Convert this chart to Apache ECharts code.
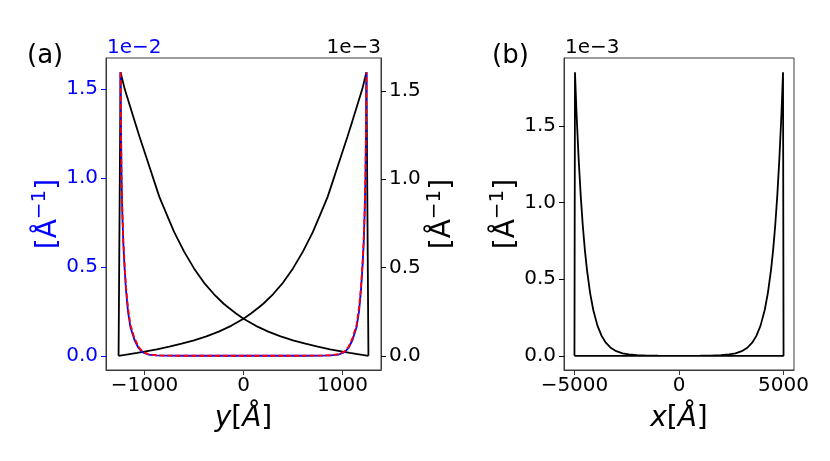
<!DOCTYPE html>
<html>
<head>
<meta charset="utf-8">
<script src="https://cdn.jsdelivr.net/npm/echarts@6/dist/echarts.min.js"></script>
<style>
  html, body { margin: 0; padding: 0; background: #fff; }
  #chart { width: 830px; height: 461px; }
</style>
</head>
<body>
<div id="chart"></div>
<script>
// panel (a): edge peaks, left axis in units of 1e-2
const aEdgeX = [-1242, -1238, -1232, -1224, -1214, -1202, -1187, -1167, -1142, -1102, -1062, -1022, -962, -882, -782, -600, -300,
  0, 300, 600, 782, 882, 962, 1022, 1062, 1102, 1142, 1167, 1187, 1202, 1214, 1224, 1232, 1238, 1242];
const aBlue = [1.594, 1.30, 1.0, 0.80, 0.63, 0.50, 0.37, 0.25, 0.16, 0.09, 0.045, 0.02, 0.007, 0.002, 0.0005, 0, 0,
  0, 0, 0, 0.0005, 0.002, 0.007, 0.02, 0.045, 0.09, 0.16, 0.25, 0.37, 0.50, 0.63, 0.80, 1.0, 1.30, 1.594];
const aRed = [1.594, 1.31, 1.01, 0.82, 0.65, 0.52, 0.39, 0.27, 0.175, 0.10, 0.052, 0.025, 0.009, 0.003, 0.0008, 0, 0,
  0, 0, 0, 0.0008, 0.003, 0.009, 0.025, 0.052, 0.10, 0.175, 0.27, 0.39, 0.52, 0.65, 0.82, 1.01, 1.31, 1.594];

// panel (a): black curves, right axis in units of 1e-3
const aBlack1X = [-1262, -1242, -1200, -1150, -1100, -1050, -1000, -950, -900, -850, -775, -700, -600, -500, -400, -300, -200, -150, -75,
  0, 125, 250, 375, 500, 625, 750, 875, 1000, 1075, 1150, 1200, 1262];
const aBlack1 = [0, 1.606, 1.51, 1.42, 1.33, 1.24, 1.155, 1.07, 0.985, 0.90, 0.80, 0.70, 0.59, 0.495, 0.415, 0.35, 0.295, 0.272, 0.24,
  0.21, 0.17, 0.137, 0.11, 0.088, 0.069, 0.052, 0.037, 0.0245, 0.017, 0.0102, 0.0055, 0];
const aBlack2X = [-1262, -1200, -1150, -1075, -1000, -875, -750, -625, -500, -375, -250, -125,
  0, 75, 150, 200, 300, 400, 500, 600, 700, 775, 850, 900, 950, 1000, 1050, 1100, 1150, 1200, 1242, 1262];
const aBlack2 = [0, 0.0055, 0.0102, 0.017, 0.0245, 0.037, 0.052, 0.069, 0.088, 0.11, 0.137, 0.17,
  0.21, 0.24, 0.272, 0.295, 0.35, 0.415, 0.495, 0.59, 0.70, 0.80, 0.90, 0.985, 1.07, 1.155, 1.24, 1.33, 1.42, 1.51, 1.606, 0];

// panel (b): units of 1e-3, outline closes along the bottom
const bX = [-5000, -4975, -4900, -4800, -4700, -4600, -4500, -4400, -4250, -4100, -3900, -3700, -3500, -3250, -3000, -2700, -2400, -2000, -1500, -1000,
  0, 1000, 1500, 2000, 2400, 2700, 3000, 3250, 3500, 3700, 3900, 4100, 4250, 4400, 4500, 4600, 4700, 4800, 4900, 4975, 5000, -5000];
const bY = [0, 1.85, 1.58, 1.285, 1.043, 0.847, 0.688, 0.559, 0.409, 0.299, 0.197, 0.130, 0.0856, 0.0509, 0.0302, 0.0162, 0.0087, 0.0038, 0.0013, 0.0004,
  0.0001, 0.0004, 0.0013, 0.0038, 0.0087, 0.0162, 0.0302, 0.0509, 0.0856, 0.130, 0.197, 0.299, 0.409, 0.559, 0.688, 0.847, 1.043, 1.285, 1.58, 1.85, 0, 0];

const aTicksX = [-1000, 0, 1000];
const bTicksX = [-5000, 0, 5000];
const ticksY = [0, 0.5, 1.0, 1.5];

const FONT = 'DejaVu Sans';
const BLUE = '#0000ff';
const FRAME = '#3a3a3a';

const pairs = (xs, ys) => xs.map((x, i) => [x, ys[i]]);
const fmtX = v => (v < 0 ? '\u2212' + Math.abs(v) : String(v));
const fmtY = v => v.toFixed(1);

const xName = (letter) => ({
  name: `{i|${letter}}{n|[}{i|Å}{n|]}`,
  nameLocation: 'middle',
  nameGap: 35,
  nameTextStyle: {
    fontFamily: FONT, fontSize: 28, color: '#000',
    rich: {
      i: { fontFamily: FONT, fontSize: 28, fontStyle: 'italic', color: '#000' },
      n: { fontFamily: FONT, fontSize: 28, color: '#000' }
    }
  }
});

const yName = (color, gap) => ({
  name: '{b|[Å}{s|\u22121}{b|]}',
  nameLocation: 'middle',
  nameRotate: 90,
  nameGap: gap,
  nameTextStyle: {
    fontFamily: FONT, fontSize: 28, color: color,
    rich: {
      b: { fontFamily: FONT, fontSize: 28, lineHeight: 28, color: color, verticalAlign: 'bottom' },
      s: { fontFamily: FONT, fontSize: 20, lineHeight: 20, color: color, verticalAlign: 'bottom', padding: [0, 0, 12, 0] }
    }
  }
});

const xAxisBase = (grid, min, max, ticks) => Object.assign({
  gridIndex: grid, type: 'value', min: min, max: max,
  splitLine: { show: false },
  axisLine: { show: true, onZero: false, lineStyle: { color: FRAME, width: 1 } },
  axisTick: { show: true, customValues: ticks, length: 5, lineStyle: { color: FRAME } },
  axisLabel: { customValues: ticks, formatter: fmtX, fontFamily: FONT, fontSize: 20, color: '#000', margin: 6 }
}, xName(grid === 0 ? 'y' : 'x'));

const yAxisBase = (grid, pos, min, max, color, gap) => Object.assign({
  gridIndex: grid, type: 'value', position: pos, min: min, max: max,
  splitLine: { show: false },
  axisLine: { show: true, onZero: false, lineStyle: { color: FRAME, width: 1 } },
  axisTick: { show: true, customValues: ticksY, length: 5, lineStyle: { color: color } },
  axisLabel: { customValues: ticksY, formatter: fmtY, fontFamily: FONT, fontSize: 20, color: color, margin: 8 }
}, yName(color, gap));

const line = (x, y, data, color, width, type) => ({
  type: 'line', xAxisIndex: x, yAxisIndex: y, data: data,
  showSymbol: false, symbol: 'none', smooth: false,
  lineStyle: { color: color, width: width, type: type || 'solid' },
  z: 2
});

const chart = echarts.init(document.getElementById('chart'), null, { renderer: 'canvas' });

const option = {
  animation: false,
  backgroundColor: '#fff',
  grid: [
    { left: 106, top: 58, width: 275, height: 312, show: true, borderColor: FRAME, borderWidth: 1 },
    { left: 564, top: 58, width: 230, height: 312, show: true, borderColor: FRAME, borderWidth: 1 }
  ],
  xAxis: [
    xAxisBase(0, -1389, 1389, aTicksX),
    xAxisBase(1, -5500, 5500, bTicksX)
  ],
  yAxis: [
    yAxisBase(0, 'left', -0.08, 1.674, BLUE, 39),
    yAxisBase(0, 'right', -0.08, 1.686, '#000', 48),
    yAxisBase(1, 'left', -0.0925, 1.9425, '#000', 38)
  ],
  series: [
    line(0, 1, pairs(aBlack1X, aBlack1), '#000', 1.8),
    line(0, 1, pairs(aBlack2X, aBlack2), '#000', 1.8),
    line(0, 0, pairs(aEdgeX, aBlue), BLUE, 1.8),
    Object.assign(line(0, 0, pairs(aEdgeX, aRed), '#ff0000', 1.8, [5.5, 2.4]), { z: 3 }),
    line(1, 2, pairs(bX, bY), '#000', 1.8)
  ],
  graphic: [
    { type: 'text', x: 27, y: 56, style: { text: '(a)', fontFamily: FONT, fontSize: 26, fill: '#000', verticalAlign: 'middle' } },
    { type: 'text', x: 492, y: 56, style: { text: '(b)', fontFamily: FONT, fontSize: 26, fill: '#000', verticalAlign: 'middle' } },
    { type: 'text', x: 107, y: 48, style: { text: '1e\u22122', fontFamily: FONT, fontSize: 20, fill: BLUE, verticalAlign: 'middle' } },
    { type: 'text', x: 381, y: 48, style: { text: '1e\u22123', fontFamily: FONT, fontSize: 20, fill: '#000', align: 'right', verticalAlign: 'middle' } },
    { type: 'text', x: 565, y: 48, style: { text: '1e\u22123', fontFamily: FONT, fontSize: 20, fill: '#000', verticalAlign: 'middle' } }
  ]
};

chart.setOption(option);
window.addEventListener('resize', () => chart.resize());
</script>
</body>
</html>
